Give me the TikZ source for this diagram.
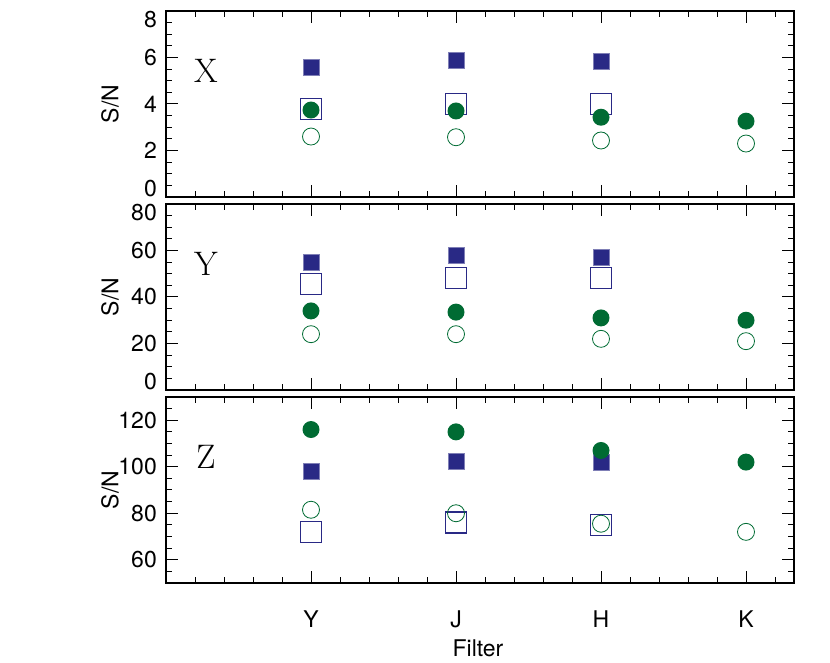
\documentclass[tikz,border=0pt]{standalone}
\usepackage{fontspec}
\setsansfont{TeX Gyre Heros}
\usetikzlibrary{positioning}
\definecolor{navy}{RGB}{41,41,133}
\definecolor{dkgreen}{RGB}{0,107,51}
\tikzset{
  fsq/.style={rectangle, fill=navy, draw=navy!60, minimum size=16pt, inner sep=0pt},
  osq/.style={rectangle, draw=navy, line width=1.2pt, fill=white, minimum size=21pt, inner sep=0pt},
  fdot/.style={circle, fill=dkgreen, minimum size=17pt, inner sep=0pt},
  odot/.style={circle, draw=dkgreen, line width=0.8pt, minimum size=17pt, inner sep=0pt},
  ticklab/.style={font=\sffamily\fontsize{23}{23}\selectfont, inner sep=0pt},
}
\begin{document}
\begin{tikzpicture}[x=1pt,y=1pt]
    \useasboundingbox (0,0) rectangle (830,663);
    % panels: bottom / vmin / vmax / major / minor / name / open sq / filled sq / filled dot / open dot
    \foreach \bot/\vmin/\vmax/\maj/\mnr/\lab/\os/\fs/\fd/\od in {
      466/0/8/2/0.5/X/{3.8,4.0,4.0}/{5.57,5.87,5.83}/{3.74,3.7,3.43,3.26}/{2.6,2.57,2.43,2.3},
      273/0/80/20/5/Y/{45.5,48,48}/{55,58,57}/{34,33.5,31,30}/{24,24,22,21},
      80/50/130/20/5/Z/{72,76,75}/{98,102.5,102}/{116,115,107,102}/{81.5,80,75.5,72}}{
    \pgfmathsetmacro\ys{186/(\vmax-\vmin)}
    \pgfmathsetmacro\off{\bot-\vmin*\ys}
    \begin{scope}[yshift=\off pt, y=\ys pt]
      \draw[line width=1.3pt] (166,\vmin) rectangle (794,\vmax);
      % y ticks
      \pgfmathsetmacro\vnext{\vmin+\mnr}
      \foreach \v in {\vmin,\vnext,...,\vmax}{
        \draw[line width=1pt] (166,\v) -- ++(6,0);
        \draw[line width=1pt] (794,\v) -- ++(-6,0);
      }
      \pgfmathsetmacro\mfirst{ceil(\vmin/\maj)*\maj}
      \pgfmathsetmacro\mnext{\mfirst+\maj}
      \foreach \v in {\mfirst,\mnext,...,\vmax}{
        \draw[line width=1pt] (166,\v) -- ++(12,0);
        \draw[line width=1pt] (794,\v) -- ++(-12,0);
        \pgfmathparse{\v==\vmin ? "base east" : (\v==\vmax ? "north east" : "east")}
        \edef\anc{\pgfmathresult}
        \pgfmathtruncatemacro\vl{\v}
        \node[ticklab, anchor=\anc] (lab\lab\vl) at (157,\v) {\vl};
      }
      % x ticks
      \foreach \x in {166,195,...,794}{
        \draw[line width=1pt] (\x,\vmin) -- ++(0,6pt);
        \draw[line width=1pt] (\x,\vmax) -- ++(0,-6pt);
      }
      \foreach \x in {311,456,601,746}{
        \draw[line width=1pt] (\x,\vmin) -- ++(0,12pt);
        \draw[line width=1pt] (\x,\vmax) -- ++(0,-12pt);
      }
      % data
      \foreach \v [count=\i] in \os {\node[osq] (os\lab\i) at (166+145*\i,\v) {};}
      \foreach \v [count=\i] in \fs {\node[fsq] (fs\lab\i) at (166+145*\i,\v) {};}
      \foreach \v [count=\i] in \fd {\node[fdot] (fd\lab\i) at (166+145*\i,\v) {};}
      \foreach \v [count=\i] in \od {\node[odot] (od\lab\i) at (166+145*\i,\v) {};}
      \node[font=\fontsize{34}{34}\selectfont, inner sep=0pt] (name\lab) at (206,\vmin+0.5*\vmax-0.5*\vmin) [yshift=33pt] {\lab};
      \node[ticklab, rotate=90] (sn\lab) at (100,\vmin+0.5*\vmax-0.5*\vmin) [yshift=-10pt] {S/N};
    \end{scope}
    }
    \foreach \x/\f in {311/Y,456/J,601/H,746/K}{
      \node[ticklab] (f\f) at (\x,44) {\f};
    }
    \node[ticklab] (filter) at (478,15) {Filter};
\end{tikzpicture}
\end{document}
